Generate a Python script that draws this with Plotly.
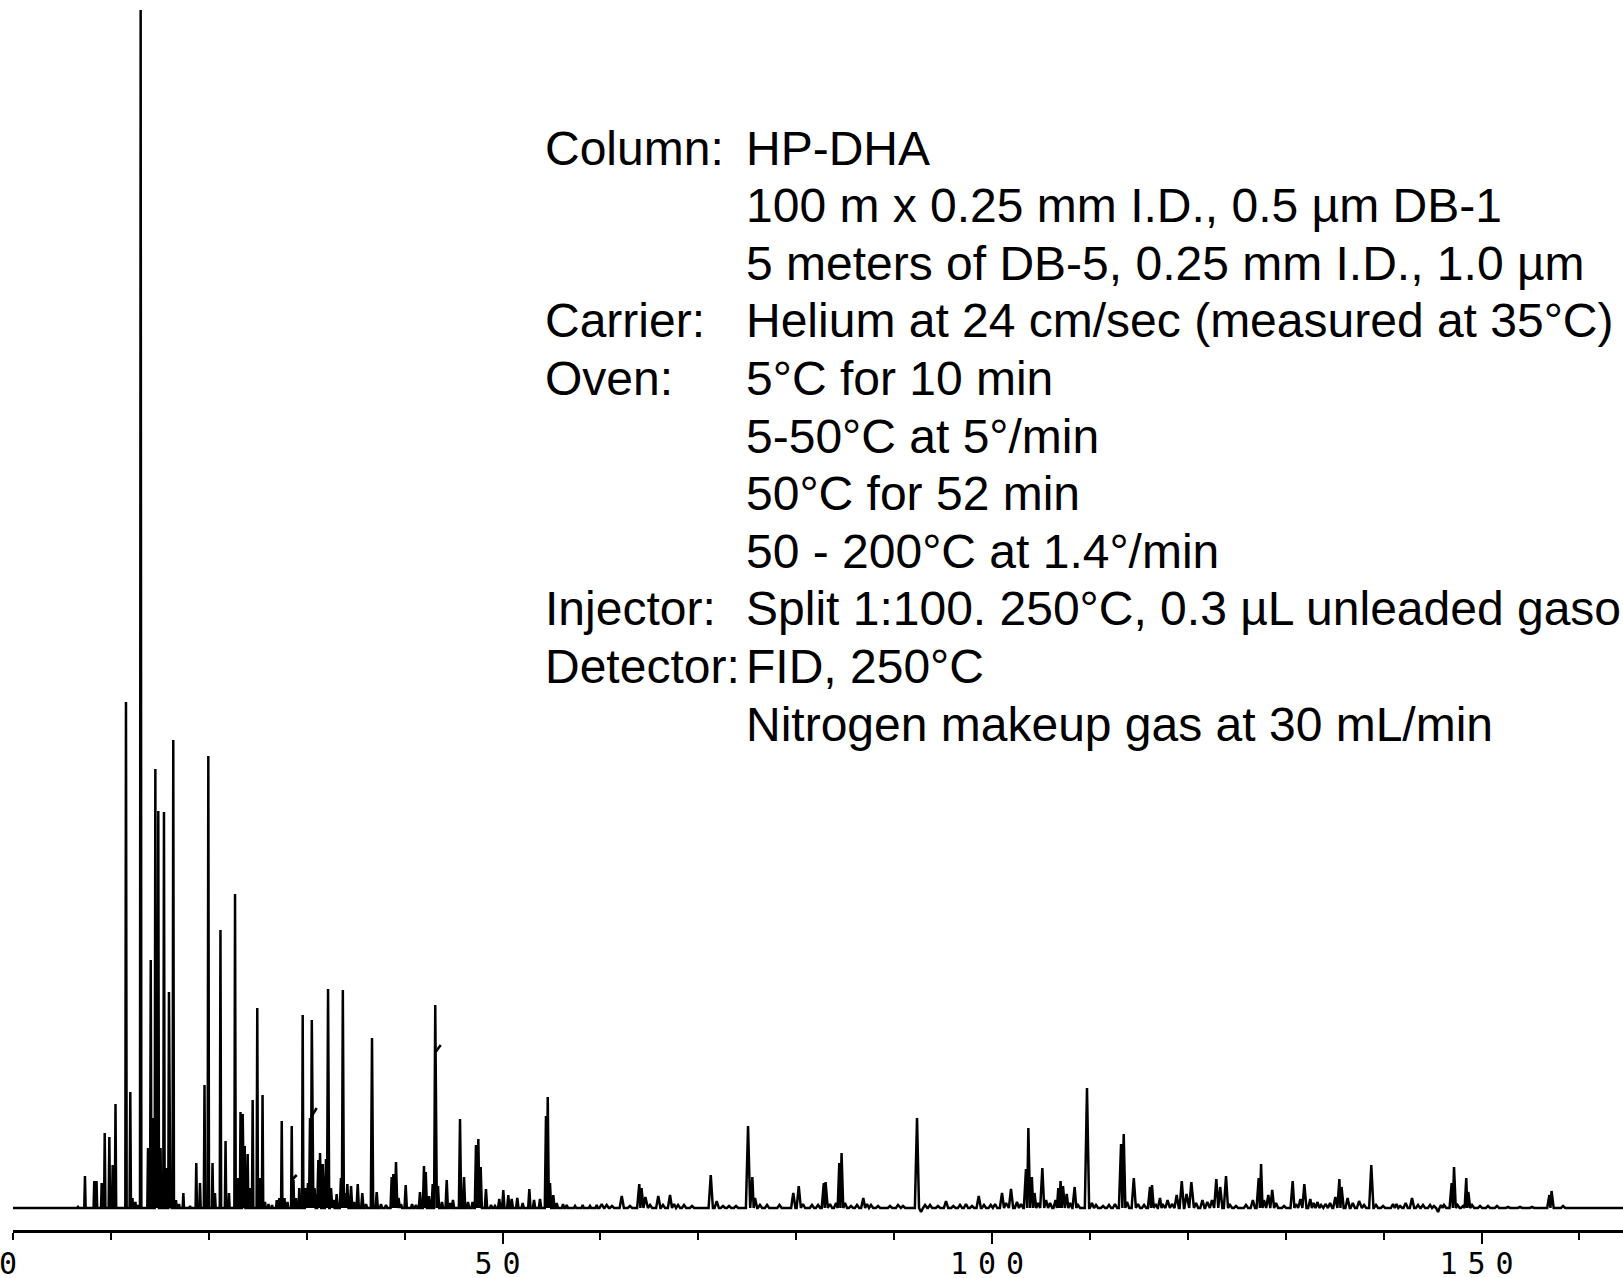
import plotly.graph_objects as go

# ---------------- data ----------------
# retention time (min) and detector response (arbitrary units) of each peak
peak_time = [
    6.64, 7.35, 8.30, 8.53, 9.06, 9.37, 9.84, 10.18, 10.47, 11.54, 11.98, 12.20, 12.50, 12.80,
    13.04, 13.79, 14.07, 14.30, 14.54, 14.68, 14.84, 15.07, 15.42, 15.66, 15.93, 16.14, 16.37,
    16.65, 16.96, 17.40, 18.08, 18.72, 19.10, 19.56, 19.95, 20.38, 20.63, 21.19, 21.71, 22.06,
    22.68, 22.93, 23.24, 23.46, 23.67, 23.97, 24.21, 24.48, 24.95, 25.18, 25.49, 25.74, 26.10,
    26.46, 26.94, 27.20, 27.45, 27.73, 28.04, 28.47, 28.65, 28.91, 29.24, 29.59, 29.88, 30.13,
    30.34, 30.52, 30.80, 31.19, 31.36, 31.63, 31.97, 32.18, 32.48, 32.74, 33.06, 33.50, 33.69,
    33.91, 34.15, 34.53, 34.83, 35.21, 35.68, 36.06, 36.67, 37.15, 37.59, 38.10, 38.68, 38.85,
    39.12, 39.38, 39.63, 40.11, 40.76, 41.16, 41.57, 41.98, 42.16, 42.49, 42.87, 43.13, 43.41,
    43.82, 44.30, 44.64, 44.94, 45.66, 46.07, 46.48, 46.94, 47.29, 47.53, 47.77, 48.31, 48.83,
    49.23, 49.67, 50.08, 50.59, 50.94, 51.51, 52.06, 52.74, 53.22, 53.83, 54.44, 54.62, 54.85,
    55.19, 55.54, 56.18, 56.56, 57.41, 58.19, 58.94, 59.62, 60.13, 60.64, 61.18, 62.18, 63.02,
    63.97, 64.20, 64.59, 65.07, 65.91, 66.39, 67.11, 67.52, 67.93, 68.54, 69.36, 71.27, 71.88,
    72.52, 73.14, 73.85, 75.08, 75.52, 75.79, 76.30, 77.02, 78.29, 79.70, 80.26, 80.69, 81.61,
    82.23, 82.82, 83.00, 83.45, 84.07, 84.40, 84.63, 84.98, 85.60, 86.21, 86.85, 87.23, 87.64,
    88.36, 89.58, 90.40, 90.91, 92.34, 92.75, 93.16, 93.67, 94.48, 95.30, 96.05, 96.73, 97.34,
    97.96, 98.64, 99.18, 99.87, 100.31, 101.02, 101.43, 101.94, 102.55, 102.96, 103.47, 103.71,
    104.07, 104.34, 104.70, 105.14, 105.52, 105.93, 106.49, 106.77, 107.00, 107.25, 107.63,
    107.97, 108.44, 108.78, 109.70, 110.21, 110.62, 111.34, 111.95, 112.56, 113.18, 113.45,
    113.79, 114.48, 114.91, 115.53, 116.14, 116.34, 116.70, 117.16, 117.47, 117.93, 118.39,
    118.86, 119.38, 119.87, 120.36, 120.84, 121.49, 121.99, 122.47, 122.91, 123.31, 123.90,
    124.31, 124.92, 125.94, 126.64, 127.24, 127.48, 127.78, 128.22, 128.62, 129.01, 129.83,
    130.71, 131.05, 131.50, 131.90, 132.51, 132.84, 133.25, 133.61, 134.06, 134.53, 135.07,
    135.48, 135.70, 136.32, 136.85, 137.49, 138.00, 138.74, 139.22, 139.94, 140.96, 141.32,
    141.68, 142.25, 142.90, 143.51, 144.02, 144.74, 145.15, 145.56, 145.86, 146.17, 146.95,
    147.19, 147.55, 148.11, 148.44, 148.65, 149.03, 149.85, 150.66, 151.58, 152.71, 153.93,
    155.16, 156.93, 157.15, 158.33,
]
peak_height = [
    1, 32, 27, 27, 25, 75, 71, 43, 104, 506, 116, 10, 6, 3,
    1198, 60, 248, 90, 439, 270, 397, 60, 396, 40, 216, 30, 468,
    8, 4, 15, 2, 45, 25, 123, 452, 45, 15, 278, 67, 15,
    314, 30, 96, 94, 62, 54, 20, 108, 200, 30, 113, 6, 4,
    3, 8, 10, 87, 10, 6, 82, 28, 10, 20, 193, 20, 25,
    90, 188, 20, 48, 55, 44, 49, 219, 20, 8, 14, 30, 218,
    15, 24, 22, 6, 24, 15, 4, 170, 16, 4, 3, 31, 34,
    46, 10, 4, 23, 4, 3, 16, 42, 36, 12, 24, 203, 22,
    6, 28, 5, 8, 89, 31, 6, 6, 63, 69, 41, 19, 3,
    2, 9, 18, 13, 9, 10, 5, 19, 8, 9, 92, 111, 25,
    13, 5, 4, 3, 2, 3, 2, 3, 4, 3, 2, 12, 2,
    24, 20, 11, 3, 12, 3, 13, 4, 3, 3, 2, 33, 7,
    2, 2, 2, 82, 31, 10, 3, 3, 3, 15, 22, 4, 3,
    3, 25, 26, 4, 5, 45, 55, 5, 2, 3, 10, 4, 3,
    2, 2, 3, 2, 90, -4, 3, 3, 2, 7, 2, 3, 4,
    2, 12, 3, 3, 4, 15, 5, 19, 6, 4, 39, 80,
    31, 15, 5, 40, 8, 5, 8, 20, 27, 22, 14,
    5, 21, 3, 120, 5, 3, 2, 3, 4, 64, 74,
    6, 30, 4, 3, 21, 23, 4, 10, 3, 8, 4,
    13, 27, 14, 26, 5, 8, 6, 8, 29, 21, 32,
    3, 2, 3, 8, 30, 44, 8, 13, 18, 5, 2,
    27, 4, 9, 24, 9, 5, 6, 3, 4, 5, 11,
    29, 21, 10, 5, 7, 3, 43, 3, 2, 4, 4,
    2, 5, 10, 3, 3, 3, 2, -4, 3, 3, 25,
    41, 3, 2, 30, 16, 3, 2, 2, 2, 1, 1,
    1, 13, 17, 2,
]

# small slanted marker strokes drawn on three peaks (start time, start height, end time, end height)
mark_t0 = [28.47, 30.45, 43.16]
mark_h0 = [28, 91, 156]
mark_t1 = [28.98, 31.02, 43.69]
mark_h1 = [33, 100, 163]

tick_values = [0, 50, 100, 150]
tick_labels = ["0", "50", "100", "150"]

label_lines = ["Column:", "", "", "Carrier:", "Oven:", "", "", "", "Injector:", "Detector:", ""]
value_lines = [
    "HP-DHA",
    "100 m x 0.25 mm I.D., 0.5 µm DB-1",
    "5 meters of DB-5, 0.25 mm I.D., 1.0 µm",
    "Helium at 24 cm/sec (measured at 35°C)",
    "5°C for 10 min",
    "5-50°C at 5°/min",
    "50°C for 52 min",
    "50 - 200°C at 1.4°/min",
    "Split 1:100. 250°C, 0.3 µL unleaded gasoline",
    "FID, 250°C",
    "Nitrogen makeup gas at 30 mL/min",
]

# ---------------- build the trace (baseline - apex - baseline for each peak) ----------------
X_END = 164.45


def half_width(t):
    if t < 30:
        return 0.07
    if t < 60:
        return 0.12
    return 0.22


xs, ys = [0.0], [0.0]
n = len(peak_time)
for i in range(n):
    t, h = peak_time[i], peak_height[i]
    w = half_width(t)
    left = t - w
    if left > xs[-1]:
        xs.append(left)
        ys.append(0)
    xs.append(t)
    ys.append(h)
    right = t + w
    if i + 1 < n:
        nxt_left = peak_time[i + 1] - half_width(peak_time[i + 1])
        if right < nxt_left:
            xs.append(right)
            ys.append(0)
        else:
            xs.append((t + peak_time[i + 1]) / 2)
            ys.append(0)
    else:
        xs.append(right)
        ys.append(0)
xs.append(X_END)
ys.append(0)

mx, my = [], []
for a, b, c, d in zip(mark_t0, mark_h0, mark_t1, mark_h1):
    mx += [a, c, None]
    my += [b, d, None]

fig = go.Figure()
fig.add_trace(go.Scatter(x=xs, y=ys, mode="lines", line=dict(color="black", width=2.5),
                         hoverinfo="skip", showlegend=False))
fig.add_trace(go.Scatter(x=mx, y=my, mode="lines", line=dict(color="black", width=2.5),
                         hoverinfo="skip", showlegend=False))
# carrier for the long major ticks
fig.add_trace(go.Scatter(x=[None], y=[None], xaxis="x2", yaxis="y", mode="lines",
                         showlegend=False, hoverinfo="skip"))

W, H = 1623, 1278
L, B = 13, 48
PLOT_H = H - B

annotations = []
for i, (lab, val) in enumerate(zip(label_lines, value_lines)):
    ypx = 148 + i * 57.6
    yp = 1 - ypx / PLOT_H
    if lab:
        annotations.append(dict(text=lab, x=(543 - L) / (W - L), y=yp, xref="paper", yref="paper",
                                xanchor="left", yanchor="middle", showarrow=False,
                                font=dict(family="Liberation Sans, Arial, sans-serif", size=48, color="black")))
    annotations.append(dict(text=val, x=(744 - L) / (W - L), y=yp, xref="paper", yref="paper",
                            xanchor="left", yanchor="middle", showarrow=False,
                            font=dict(family="Liberation Sans, Arial, sans-serif", size=48, color="black")))

spaced_labels = ['<span style="letter-spacing:10px">%s</span>' % s for s in tick_labels]

fig.update_layout(
    width=W, height=H,
    margin=dict(l=L, r=0, t=0, b=B, pad=0),
    paper_bgcolor="white", plot_bgcolor="white",
    showlegend=False,
    xaxis=dict(
        range=[0, X_END], showgrid=False, zeroline=False, automargin=False,
        showline=True, linecolor="black", linewidth=2.5,
        tickmode="array", tickvals=tick_values, ticktext=spaced_labels,
        ticks="", ticklabelstandoff=5, ticklabeloverflow="allow",
        tickfont=dict(family="DejaVu Sans Mono", size=30, color="black"),
        minor=dict(ticks="outside", dtick=10, tick0=0, ticklen=7, tickwidth=2, tickcolor="black"),
        fixedrange=True,
    ),
    xaxis2=dict(
        overlaying="x", matches="x", anchor="y", side="bottom",
        showgrid=False, zeroline=False, showline=False, automargin=False,
        tickmode="array", tickvals=tick_values[1:], ticks="outside", ticklen=13,
        tickwidth=2, tickcolor="black", showticklabels=False, fixedrange=True,
    ),
    yaxis=dict(range=[-22, 1208], visible=False, fixedrange=True, automargin=False),
    annotations=annotations,
)

fig.write_html("out.html")
